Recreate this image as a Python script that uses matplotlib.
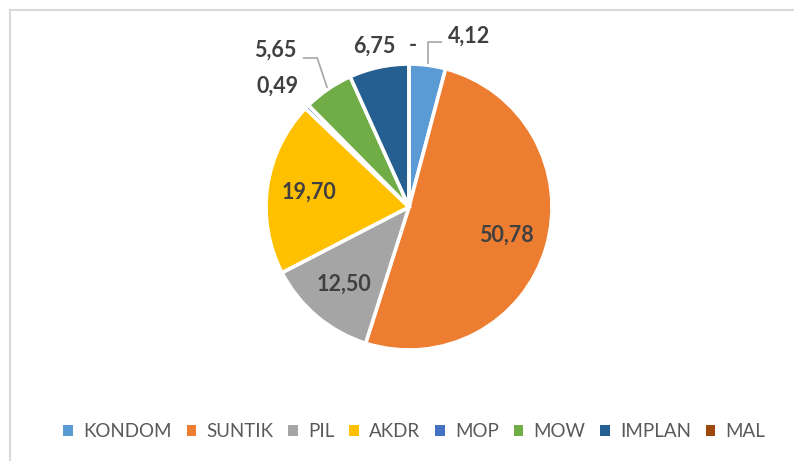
import numpy as np
import matplotlib.pyplot as plt
from matplotlib.patches import Patch
from matplotlib.lines import Line2D

# data
categories = ["KONDOM", "SUNTIK", "PIL", "AKDR", "MOP", "MOW", "IMPLAN", "MAL"]
values = [4.12, 50.78, 12.50, 19.70, 0.49, 5.65, 6.75, 0.0]
colors = ["#5B9BD5", "#ED7D31", "#A5A5A5", "#FFC000", "#4472C4", "#70AD47", "#255E91", "#9E480E"]

plt.rcParams['font.family'] = ['Lato', 'DejaVu Sans']

W, H = 794, 461
fig = plt.figure(figsize=(W / 100, H / 100), dpi=100)

# pie placement (pixels): centre and radius
cx, cy, rad, lim = 409, 207, 143, 1.6
side = 2 * lim * rad
ax = fig.add_axes([(cx - lim * rad) / W, (H - cy - lim * rad) / H, side / W, side / H])

wedges, _ = ax.pie(values, colors=colors, startangle=90, counterclock=False,
                   radius=1.0, wedgeprops=dict(edgecolor="white", linewidth=2.6))
ax.set_xlim(-lim, lim)
ax.set_ylim(-lim, lim)
ax.set_aspect("equal")
ax.axis("off")

def fmt(v):
    return "-" if v == 0 else f"{v:.2f}".replace(".", ",")

# label layout: (distance, angle shift in deg); inside labels use 0.71
layout = {0: (1.27, -12), 4: (1.25, 2), 5: (1.44, 6), 6: (1.15, 0), 7: (1.13, -1.5)}
txt_color = "#404040"
for i, (w, v) in enumerate(zip(wedges, values)):
    mid = np.deg2rad((w.theta1 + w.theta2) / 2)
    d, shift = layout.get(i, (0.71, 0))
    a = mid + np.deg2rad(shift)
    x, y = d * np.cos(a), d * np.sin(a)
    ax.text(x, y, fmt(v), ha="center", va="center", fontsize=15.5,
            fontweight="bold", color=txt_color)

# leader lines for KONDOM and MOW
lead = {0: (1.154, 1), 5: (0.93, -1)}
for i, (ly, side_dir) in lead.items():
    w = wedges[i]
    mid = np.deg2rad((w.theta1 + w.theta2) / 2)
    x0, y0 = 1.01 * np.cos(mid), 1.01 * np.sin(mid)
    if i == 5:
        ly = 1.042
        xe = x0 - 0.07
    else:
        xe = x0
    ax.plot([x0, xe, xe + side_dir * 0.1], [y0, ly, ly], color="#A6A6A6", lw=1.2,
            solid_capstyle="butt")

# legend
handles = [Patch(facecolor=c, edgecolor="none") for c in colors]
fig.legend(handles, categories, loc="center", bbox_to_anchor=(0.522, 0.063), ncol=8,
           frameon=False, fontsize=13.5, handlelength=0.5, handleheight=0.5,
           handletextpad=0.55, columnspacing=0.8, labelcolor="#595959")

# chart border (top and left)
fig.add_artist(Line2D([10 / W, 793 / W], [1 - 10 / H, 1 - 10 / H], color="#D9D9D9", lw=1.5))
fig.add_artist(Line2D([10 / W, 10 / W], [1 - 10 / H, 0], color="#D9D9D9", lw=1.5))

fig.savefig("out.png", dpi=100)
